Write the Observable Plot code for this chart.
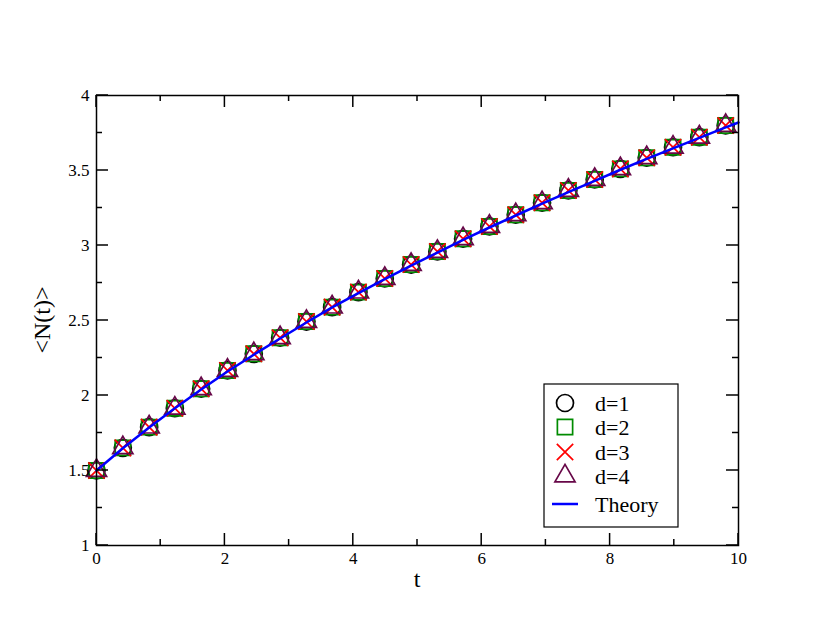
<!DOCTYPE html>
<html><head>
<meta charset="utf-8">
<script src="https://cdn.jsdelivr.net/npm/d3@7"></script>
<script src="https://cdn.jsdelivr.net/npm/@observablehq/plot@0.6"></script>
<style>
body{margin:0;background:#fff;}
#chart svg, #chart svg text{font-family:"Liberation Serif","Times New Roman",Times,"DejaVu Serif",serif !important;}
</style>
</head><body><div id="chart"></div>
<script>
const t = [0, 0.41, 0.82, 1.22, 1.63, 2.04, 2.45, 2.86, 3.27, 3.67, 4.08, 4.49, 4.9, 5.31, 5.71, 6.12, 6.53, 6.94, 7.35, 7.76, 8.16, 8.57, 8.98, 9.39, 9.8];
const nD1 = [1.5, 1.651, 1.789, 1.915, 2.045, 2.167, 2.278, 2.385, 2.493, 2.589, 2.689, 2.78, 2.873, 2.96, 3.045, 3.127, 3.205, 3.285, 3.367, 3.44, 3.511, 3.585, 3.655, 3.722, 3.8];
const nD2 = [1.5, 1.651, 1.789, 1.915, 2.045, 2.167, 2.278, 2.385, 2.493, 2.589, 2.689, 2.78, 2.873, 2.96, 3.045, 3.127, 3.205, 3.285, 3.367, 3.44, 3.511, 3.585, 3.655, 3.722, 3.8];
const nD3 = [1.5, 1.651, 1.789, 1.915, 2.045, 2.167, 2.278, 2.385, 2.493, 2.589, 2.689, 2.78, 2.873, 2.96, 3.045, 3.127, 3.205, 3.285, 3.367, 3.44, 3.511, 3.585, 3.655, 3.722, 3.8];
const nD4 = [1.5, 1.651, 1.789, 1.915, 2.045, 2.167, 2.278, 2.385, 2.493, 2.589, 2.689, 2.78, 2.873, 2.96, 3.045, 3.127, 3.205, 3.285, 3.367, 3.44, 3.511, 3.585, 3.655, 3.722, 3.8];
const tTheory = [0, 0.41, 0.82, 1.22, 1.63, 2.04, 2.45, 2.86, 3.27, 3.67, 4.08, 4.49, 4.9, 5.31, 5.71, 6.12, 6.53, 6.94, 7.35, 7.76, 8.16, 8.57, 8.98, 9.39, 9.8, 10];
const nTheory = [1.5, 1.648, 1.787, 1.915, 2.04, 2.16, 2.272, 2.38, 2.487, 2.587, 2.683, 2.776, 2.866, 2.953, 3.037, 3.12, 3.2, 3.279, 3.356, 3.431, 3.505, 3.577, 3.648, 3.718, 3.787, 3.82];
const xTicks = [0, 2, 4, 6, 8, 10];
const xMinor = [1, 3, 5, 7, 9];
const yTicks = [1, 1.5, 2, 2.5, 3, 3.5, 4];
const yMinor = [1.25, 1.75, 2.25, 2.75, 3.25, 3.75];
const series = ["d=1", "d=2", "d=3", "d=4", "Theory"];
const colors = ["#000000", "#008b00", "#ff0000", "#670748", "#0000ff"];

const FONT = '"Liberation Serif", "Times New Roman", Times, "DejaVu Serif", serif';
const mk = (ys) => t.map((x, i) => ({t: x, n: ys[i]}));
const theory = tTheory.map((x, i) => ({t: x, n: nTheory[i]}));

const plot = Plot.plot({
  width: 830, height: 642,
  marginLeft: 96, marginRight: 92, marginTop: 95, marginBottom: 97,
  x: {domain: [0, 10]},
  y: {domain: [1, 4]},
  style: {fontFamily: FONT, fontSize: "17px", color: "#000"},
  marks: [
    Plot.dot(mk(nD1), {x: "t", y: "n", symbol: "circle", r: 8.5, stroke: colors[0], strokeWidth: 1.7, fill: "none"}),
    Plot.dot(mk(nD2), {x: "t", y: "n", symbol: "square", r: 8.6, stroke: colors[1], strokeWidth: 1.7, fill: "none"}),
    Plot.dot(mk(nD3), {x: "t", y: "n", symbol: "times", r: 7.5, stroke: colors[2], strokeWidth: 1.7}),
    Plot.dot(mk(nD4), {x: "t", y: "n", symbol: "triangle", r: 7.5, stroke: colors[3], strokeWidth: 1.7, fill: "none"}),
    Plot.line(theory, {x: "t", y: "n", stroke: colors[4], strokeWidth: 2.5}),
    Plot.axisX(xTicks, {tickSize: 0, tickPadding: 6, fontSize: 17, tickFormat: d3.format("~g"), label: null}),
    Plot.axisY(yTicks, {tickSize: 0, tickPadding: 7, fontSize: 17, tickFormat: d3.format("~g"), label: null}),
    Plot.frame({stroke: "#000", strokeWidth: 1.5})
  ]
});

const svg = d3.select(plot);
svg.selectAll("text").attr("font-size", 17).style("font-size", "17px");
const xs = plot.scale("x"), ys = plot.scale("y");
const X = v => xs.apply(v), Y = v => ys.apply(v);
const [x0, x1] = [X(0), X(10)], [y0, y1] = [Y(1), Y(4)];
const g = svg.append("g").attr("stroke", "#000").attr("stroke-width", 1.5);
const tick = (xa, ya, xb, yb) => g.append("line").attr("x1", xa).attr("y1", ya).attr("x2", xb).attr("y2", yb);
xTicks.forEach(v => { tick(X(v), y0, X(v), y0 - 12); tick(X(v), y1, X(v), y1 + 12); });
xMinor.forEach(v => { tick(X(v), y0, X(v), y0 - 6); tick(X(v), y1, X(v), y1 + 6); });
yTicks.forEach(v => { tick(x0, Y(v), x0 + 12, Y(v)); tick(x1, Y(v), x1 - 12, Y(v)); });
yMinor.forEach(v => { tick(x0, Y(v), x0 + 6, Y(v)); tick(x1, Y(v), x1 - 6, Y(v)); });

// axis titles
svg.append("text").attr("x", (x0 + x1) / 2).attr("y", y0 + 42).attr("text-anchor", "middle")
  .attr("font-size", 24).style("font-size", "24px").attr("font-family", FONT).text("t");
svg.append("text").attr("transform", `translate(${x0 - 46},${(y0 + y1) / 2}) rotate(-90)`).attr("text-anchor", "middle")
  .attr("font-size", 24).style("font-size", "24px").attr("font-family", FONT).text("<N(t)>");

// legend
const lg = svg.append("g").attr("transform", `translate(${x1 - 194},${y0 - 161})`);
lg.append("rect").attr("width", 134).attr("height", 143).attr("fill", "#fff").attr("stroke", "#000").attr("stroke-width", 1.2);
const rowY = [19, 43, 68, 92, 120];
const sym = [d3.symbolCircle, d3.symbolSquare, d3.symbolTimes, d3.symbolTriangle];
const sizes = [Math.PI * 8.5 * 8.5, Math.PI * 8.6 * 8.6, Math.PI * 7.5 * 7.5, Math.PI * 7.5 * 7.5];
series.forEach((s, i) => {
  if (i < 4) {
    lg.append("path").attr("d", d3.symbol(sym[i], sizes[i])()).attr("transform", `translate(21,${rowY[i]})`)
      .attr("fill", "none").attr("stroke", colors[i]).attr("stroke-width", 1.7);
  } else {
    lg.append("line").attr("x1", 8).attr("x2", 34).attr("y1", rowY[i]).attr("y2", rowY[i]).attr("stroke", colors[i]).attr("stroke-width", 2.5);
  }
  lg.append("text").attr("x", 51).attr("y", rowY[i] + 8).attr("text-anchor", "start")
    .attr("font-size", 22).style("font-size", "22px").attr("font-family", FONT).text(s);
});

document.getElementById("chart").appendChild(plot);
</script>
</body></html>
